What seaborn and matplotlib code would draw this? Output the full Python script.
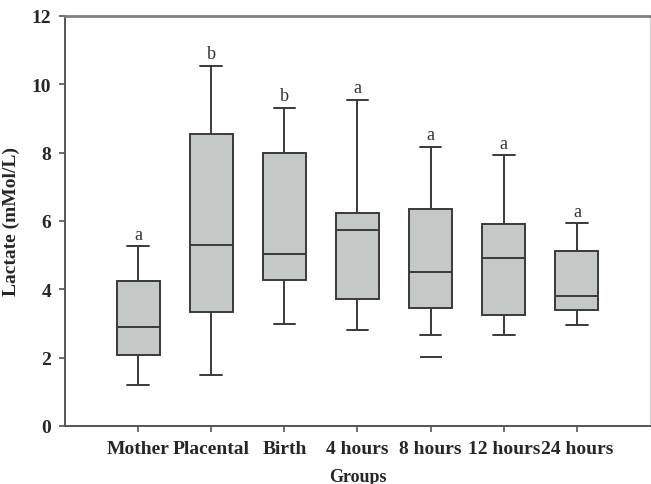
import matplotlib.pyplot as plt
import numpy as np
import pandas as pd
import seaborn as sns

# five-number summaries
groups = ['Mother', 'Placental', 'Birth', '4 hours', '8 hours', '12 hours', '24 hours']
whisker_low = [1.20, 1.49, 2.99, 2.82, 2.66, 2.66, 2.96]
q1 = [2.08, 3.33, 4.28, 3.72, 3.46, 3.24, 3.40]
median = [2.89, 5.31, 5.03, 5.74, 4.52, 4.91, 3.80]
q3 = [4.23, 8.55, 7.99, 6.23, 6.35, 5.91, 5.13]
whisker_high = [5.27, 10.54, 9.31, 9.55, 8.17, 7.93, 5.94]
letters = ['a', 'b', 'b', 'a', 'a', 'a', 'a']
outlier_group = '8 hours'
outlier_value = 2.02

sns.set_theme(style='white')
plt.rcParams['font.family'] = ['Liberation Serif', 'DejaVu Serif']

# five points per group -> quartiles land exactly on the summary values
rows = []
for g, a, b, c, d, e in zip(groups, whisker_low, q1, median, q3, whisker_high):
    for v in (a, b, c, d, e):
        rows.append({'Groups': g, 'Lactate': v})
df = pd.DataFrame(rows)

fig = plt.figure(figsize=(6.51, 4.85), dpi=100)
ax = fig.add_axes([0.0998, 0.1196, 0.8987, 0.8454])

line_c = '#3a3a3a'
sns.boxplot(data=df, x='Groups', y='Lactate', order=groups, whis=np.inf,
            width=0.59, color='#c4c9c8', saturation=1, linewidth=1.4,
            linecolor=line_c, showfliers=False, ax=ax)

# outlier drawn as a short dash
ax.plot(groups.index(outlier_group), outlier_value, marker='_', ms=16,
        mew=1.4, color=line_c, linestyle='none')

for i, (lab, top) in enumerate(zip(letters, whisker_high)):
    ax.text(i, top + 0.1, lab, ha='center', va='bottom', fontsize=13,
            color='#333333')

ax.set_xlim(-1, 7)
ax.set_ylim(0, 12)
ax.set_yticks(range(0, 13, 2))
ax.set_xlabel('Groups', fontsize=13, fontweight='bold', labelpad=8)
ax.set_ylabel('Lactate (mMol/L)', fontsize=14, fontweight='bold', labelpad=8)
for lab in ax.get_xticklabels() + ax.get_yticklabels():
    lab.set_fontweight('bold')
    lab.set_fontsize(14)
ax.tick_params(axis='both', direction='out', length=4, width=1.2,
               color='#555555', bottom=True, left=True, pad=6)

ax.spines['left'].set_color('#555555')
ax.spines['bottom'].set_color('#555555')
ax.spines['left'].set_linewidth(1.4)
ax.spines['bottom'].set_linewidth(1.4)
ax.spines['top'].set_color('#808080')
ax.spines['top'].set_linewidth(2)
ax.spines['right'].set_color('#d0d0d0')
ax.spines['right'].set_linewidth(1)

fig.savefig('out.png', dpi=100)
